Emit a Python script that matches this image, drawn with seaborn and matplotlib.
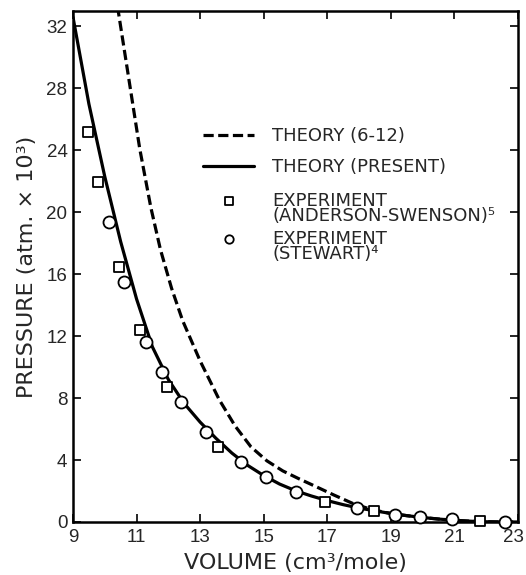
import matplotlib
matplotlib.use("Agg")
import matplotlib.pyplot as plt
import seaborn as sns
import pandas as pd
from matplotlib.legend_handler import HandlerPathCollection
from matplotlib.transforms import ScaledTranslation

# ---- data ----
vol_present = [9.0, 9.5, 10.0, 10.5, 11.0, 11.5, 12.0, 12.5, 13.0, 13.5, 14.0, 14.5,
               15.0, 15.5, 16.0, 16.5, 17.0, 17.5, 18.0, 18.5, 19.0, 19.5, 20.0,
               20.5, 21.0, 21.5, 22.0, 22.5, 23.0]
p_present = [32.6, 27.0, 22.3, 18.1, 14.4, 11.3, 9.2, 7.65, 6.45, 5.4, 4.45, 3.65,
             3.0, 2.45, 2.02, 1.68, 1.38, 1.12, 0.9, 0.72, 0.55, 0.41, 0.29,
             0.19, 0.11, 0.05, 0.015, 0.0, 0.0]

vol_612 = [10.40, 10.75, 11.1, 11.45, 11.75, 12.1, 12.45, 13.0, 13.6, 14.1, 14.6,
           15.1, 15.6, 16.1, 16.65, 17.2, 17.8, 18.4, 19.0, 19.5, 20.0, 20.5,
           21.0, 21.5, 22.0, 22.5, 23.0]
p_612 = [33.3, 28.7, 24.1, 20.3, 17.6, 15.1, 13.0, 10.4, 7.9, 6.2, 4.85,
         3.95, 3.3, 2.8, 2.28, 1.75, 1.2, 0.8, 0.55, 0.41, 0.29, 0.19,
         0.11, 0.05, 0.015, 0.0, 0.0]

vol_anderson = [9.47, 9.78, 10.45, 11.11, 11.96, 13.57, 16.92, 18.47, 21.82]
p_anderson = [25.2, 21.95, 16.5, 12.4, 8.7, 4.85, 1.31, 0.71, 0.06]

vol_stewart = [10.13, 10.60, 11.30, 11.79, 12.40, 13.17, 14.27, 15.06, 16.03,
               17.92, 19.13, 19.91, 20.92, 22.60]
p_stewart = [19.4, 15.5, 11.6, 9.68, 7.72, 5.83, 3.85, 2.92, 1.96,
             0.92, 0.45, 0.30, 0.17, 0.02]

x_ticks = [9, 11, 13, 15, 17, 19, 21, 23]
y_ticks = [0, 4, 8, 12, 16, 20, 24, 28, 32]

labels = ["THEORY (6-12)", "THEORY (PRESENT)",
          "EXPERIMENT\n(ANDERSON-SWENSON)\u2075", "EXPERIMENT\n(STEWART)\u2074"]

# ---- style ----
sns.set_style("ticks")
plt.rcParams["font.family"] = ["DejaVu Sans"]

fig = plt.figure(figsize=(5.26, 5.75), dpi=100)
ax = fig.add_axes([73 / 526, 1 - 522 / 575, 445 / 526, 511 / 575])

df_612 = pd.DataFrame({"V": vol_612, "P": p_612})
df_pres = pd.DataFrame({"V": vol_present, "P": p_present})
df_and = pd.DataFrame({"V": vol_anderson, "P": p_anderson})
df_ste = pd.DataFrame({"V": vol_stewart, "P": p_stewart})

sns.lineplot(data=df_612, x="V", y="P", ax=ax, color="black", lw=2.3,
             estimator=None, sort=False, label=labels[0], zorder=2)
ax.lines[-1].set_dashes((3.2, 1.4))
sns.lineplot(data=df_pres, x="V", y="P", ax=ax, color="black", lw=2.3,
             estimator=None, sort=False, label=labels[1], zorder=2)
sns.scatterplot(data=df_and, x="V", y="P", ax=ax, marker="s", s=62,
                facecolor="white", edgecolor="black", linewidth=1.3,
                label=labels[2], zorder=3, clip_on=False)
sns.scatterplot(data=df_ste, x="V", y="P", ax=ax, marker="o", s=75,
                facecolor="white", edgecolor="black", linewidth=1.3,
                label=labels[3], zorder=3, clip_on=False)

ax.set_xlim(9, 23)
ax.set_ylim(0, 33)
ax.set_xticks(x_ticks)
ax.set_yticks(y_ticks)
ax.tick_params(direction="in", length=6, width=1.4, labelsize=13.5,
               top=True, right=True, pad=5, labelfontfamily="Liberation Sans")
ax.tick_params(axis="y", pad=4)
for sp in ax.spines.values():
    sp.set_visible(True)
    sp.set_linewidth(1.8)
    sp.set_color("black")

ax.set_xlabel("VOLUME (cm\u00b3/mole)", fontsize=16, labelpad=5)
ax.set_ylabel("PRESSURE (atm. \u00d7 10\u00b3)", fontsize=16, labelpad=7)

handles, labs = ax.get_legend_handles_labels()
if ax.get_legend() is not None:
    ax.get_legend().remove()

common = dict(loc="upper left", frameon=False, fontsize=13, handlelength=2.85,
              handletextpad=1.0, borderpad=0, borderaxespad=0)
leg1 = ax.legend(handles[:2], labs[:2], bbox_to_anchor=(0.292, 0.773),
                 labelspacing=0.72, **common)
ax.add_artist(leg1)
hmap = {handles[2]: HandlerPathCollection(yoffsets=[1.15]),
        handles[3]: HandlerPathCollection(yoffsets=[1.15])}
leg2 = ax.legend(handles[2:], labs[2:], bbox_to_anchor=(0.292, 0.646),
                 labelspacing=0.25, scatterpoints=1, markerscale=0.7,
                 handler_map=hmap, **common)
for t in leg2.get_texts():
    t.set_linespacing(0.8)

# nudge the last x tick label inward, as in the reference
fig.canvas.draw()
last = ax.get_xticklabels()[-1]
last.set_transform(last.get_transform() + ScaledTranslation(-0.05, 0, fig.dpi_scale_trans))

fig.savefig("out.png", dpi=100)
